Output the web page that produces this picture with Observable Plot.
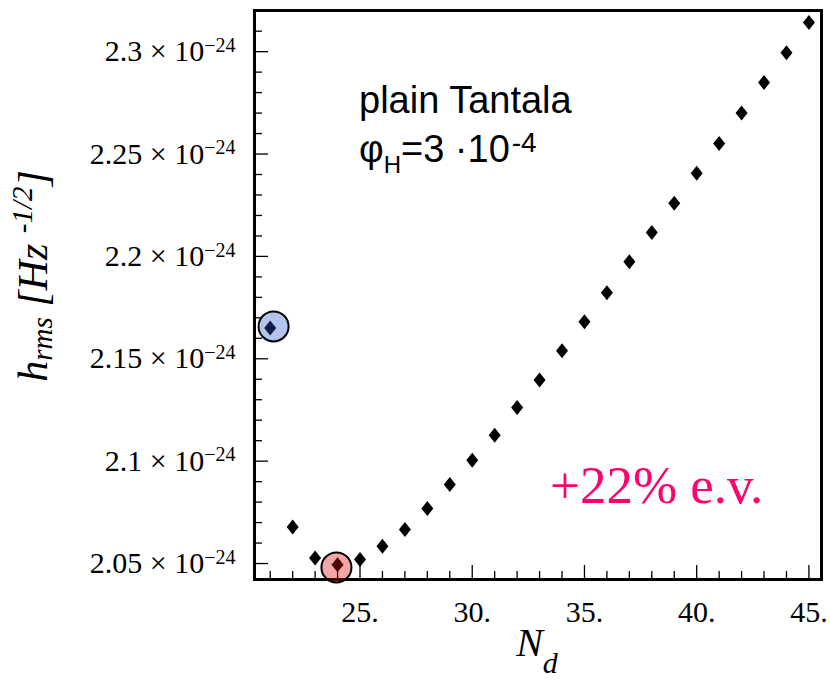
<!DOCTYPE html>
<html><head><meta charset="utf-8">
<script src="https://cdn.jsdelivr.net/npm/d3@7"></script>
<script src="https://cdn.jsdelivr.net/npm/@observablehq/plot@0.6"></script>
<style>
html,body{margin:0;padding:0;background:#fff;}
#chart{width:830px;height:680px;overflow:hidden;}
</style></head><body><div id="chart"></div>
<script>
// Number of layers N_d
const nd = [21,22,23,24,25,26,27,28,29,30,31,32,33,34,35,36,37,38,39,40,41,42,43,44,45];
// h_rms in units of 10^-24 Hz^-1/2
const hrms = [2.1650,2.0679,2.0527,2.0494,2.0520,2.0585,2.0666,2.0769,2.0886,2.1005,2.1127,2.1262,2.1396,2.1539,2.1681,2.1822,2.1974,2.2117,2.2259,2.2406,2.2552,2.2700,2.2849,2.2995,2.3142];
// highlight circles (as drawn in the figure)
const highlightN = [21.15, 23.95];
const highlightH = [2.1658, 2.0481];
const highlightColor = ["rgb(43,86,200)", "rgb(220,0,0)"];
// ticks
const xMajorTicks = [25,30,35,40,45];
const xMinorTicks = [21,22,23,24,26,27,28,29,31,32,33,34,36,37,38,39,41,42,43,44];
const yMajorTicks = [2.05,2.1,2.15,2.2,2.25,2.3];
const yMinorTicks = [2.06,2.07,2.08,2.09,2.11,2.12,2.13,2.14,2.16,2.17,2.18,2.19,2.21,2.22,2.23,2.24,2.26,2.27,2.28,2.29,2.31];
const yTickLabels = ["2.05","2.1","2.15","2.2","2.25","2.3"];

const SERIF = "Liberation Serif";
const SANS = "Liberation Sans";

const points = nd.map((n, i) => ({n, h: hrms[i]}));
const highlights = highlightN.map((n, i) => ({n, h: highlightH[i], c: highlightColor[i]}));

const tallDiamond = {
  draw(context) {
    context.moveTo(0, -7.5);
    context.lineTo(6, 0);
    context.lineTo(0, 7.5);
    context.lineTo(-6, 0);
    context.closePath();
  }
};

const chart = Plot.plot({
  width: 830,
  height: 680,
  marginLeft: 254,
  marginRight: 9,
  marginTop: 10,
  marginBottom: 101,
  style: {fontFamily: SERIF, color: "black", background: "white", overflow: "visible"},
  x: {domain: [20.3, 45.56]},
  y: {domain: [2.0422, 2.3201]},
  marks: [
    Plot.axisX({ticks: xMinorTicks, tickSize: -8, tickFormat: () => "", label: null, strokeWidth: 1.3}),
    Plot.axisX({ticks: xMajorTicks, tickSize: -14, tickFormat: () => "", label: null, strokeWidth: 1.3}),
    Plot.axisX({ticks: xMajorTicks, tickSize: 0, tickPadding: 21, tickFormat: d => d + ".", label: null, fontSize: 30, fontFamily: SERIF}),
    Plot.axisY({ticks: yMinorTicks, tickSize: -8, tickFormat: () => "", label: null, strokeWidth: 1.3}),
    Plot.axisY({ticks: yMajorTicks, tickSize: -14, tickFormat: () => "", label: null, strokeWidth: 1.3}),
    Plot.axisY({ticks: yMajorTicks, tickSize: 0, tickPadding: 19, tickFormat: (d, i) => yTickLabels[i] + " × 10", label: null, fontSize: 30, fontFamily: SERIF}),
    Plot.frame({strokeWidth: 3}),
    Plot.dot(points, {x: "n", y: "h", symbol: tallDiamond, fill: "black", r: 6}),
    Plot.dot(highlights, {x: "n", y: "h", r: 15, fill: "c", fillOpacity: 0.35, stroke: "black", strokeWidth: 2})
  ]
});
document.getElementById("chart").appendChild(chart);

const svg = d3.select(chart);
svg.selectAll('g[aria-label$="tick label"]').attr("font-family", SERIF);
// superscripts on y tick labels
svg.selectAll('g[aria-label="y-axis tick label"] text').each(function() {
  const t = d3.select(this);
  if (!t.text()) return;
  t.append("tspan").attr("dy", -9.4).attr("font-size", 20).text("−24");
});

// y-axis title
const yt = svg.append("text")
  .attr("transform", "translate(47,276) rotate(-90)")
  .attr("text-anchor", "middle")
  .attr("font-family", SERIF)
  .attr("font-style", "italic")
  .attr("font-size", 42)
  .attr("fill", "black");
yt.append("tspan").text("h");
yt.append("tspan").attr("font-size", 29).attr("dy", 5).text("rms");
yt.append("tspan").attr("dy", -5).text(" [Hz ");
yt.append("tspan").attr("font-size", 29).attr("dy", -15).text("-1/2");
yt.append("tspan").attr("dy", 15).text("]");

// x-axis title
const xt = svg.append("text")
  .attr("x", 537).attr("y", 656)
  .attr("text-anchor", "middle")
  .attr("font-family", SERIF)
  .attr("font-style", "italic")
  .attr("font-size", 40)
  .attr("fill", "black");
xt.append("tspan").text("N");
xt.append("tspan").attr("font-size", 30).attr("dy", 17).text("d");

// annotations
svg.append("text")
  .attr("x", 359).attr("y", 112.7)
  .attr("text-anchor", "start")
  .attr("font-family", SANS)
  .attr("font-size", 38).attr("fill", "black")
  .text("plain Tantala");
const a2 = svg.append("text")
  .attr("x", 359).attr("y", 161.7)
  .attr("text-anchor", "start")
  .attr("font-family", SANS)
  .attr("font-size", 38).attr("fill", "black");
a2.append("tspan").text("φ");
a2.append("tspan").attr("font-size", 24).attr("dy", 11).text("H");
a2.append("tspan").attr("dy", -11).text("=3 ·10");
a2.append("tspan").attr("font-size", 28).attr("dy", -10).attr("dx", 2).text("-4");

svg.append("text")
  .attr("x", 550).attr("y", 503)
  .attr("text-anchor", "start")
  .attr("font-family", SERIF)
  .attr("font-size", 53).attr("fill", "rgb(255,0,110)")
  .text("+22% e.v.");
</script>
</body></html>
